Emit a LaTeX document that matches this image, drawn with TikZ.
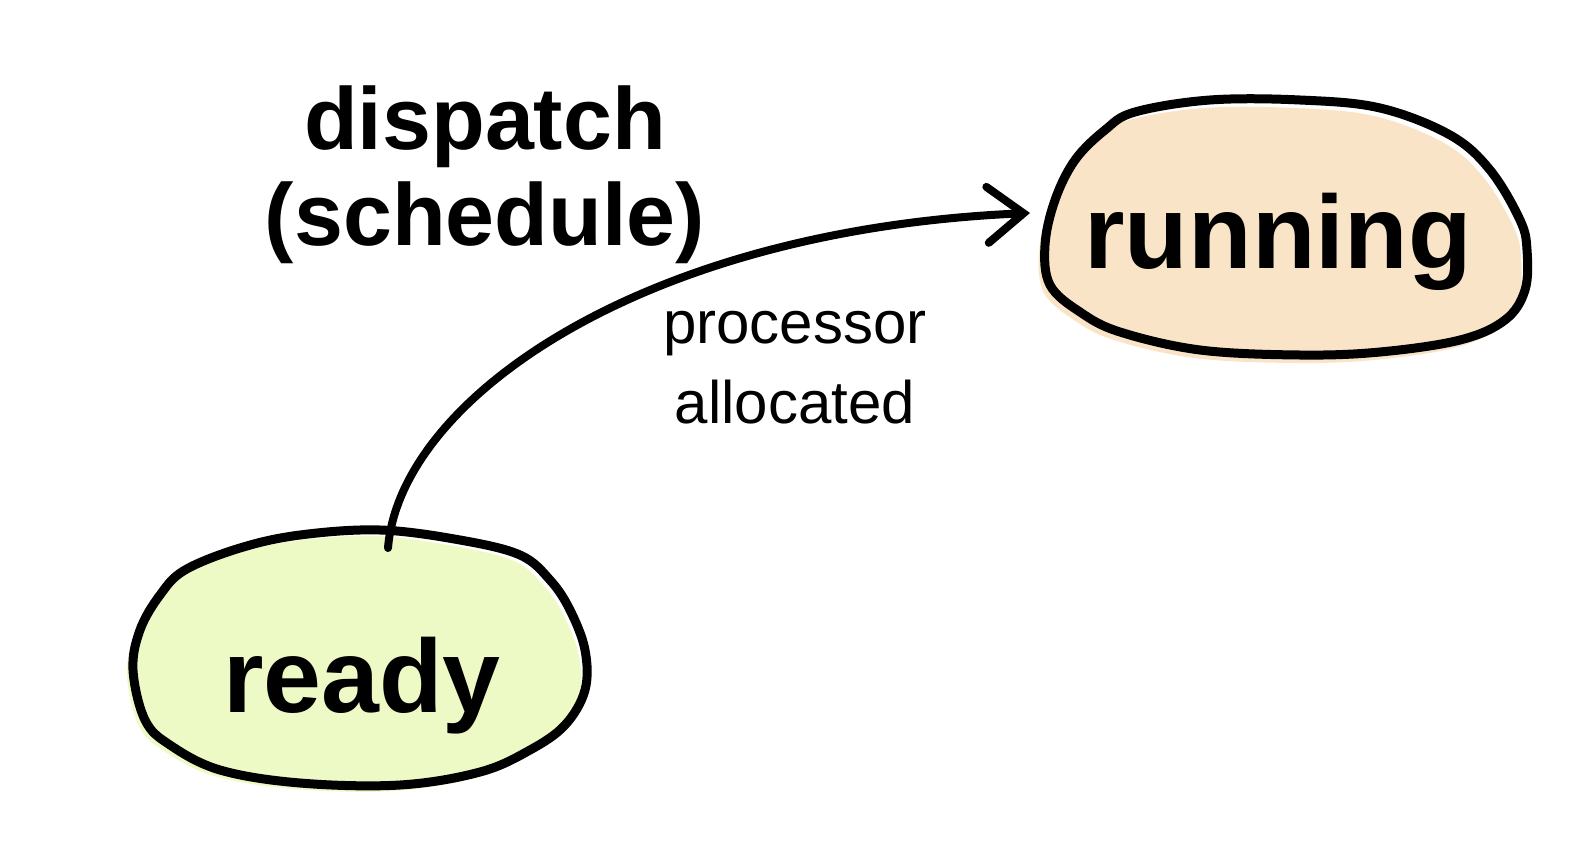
\documentclass[tikz,border=0pt]{standalone}
\usepackage{fontspec}
\setmainfont{Liberation Sans}
\usetikzlibrary{arrows.meta}
\definecolor{runfill}{HTML}{F9E4C8}
\definecolor{readyfill}{HTML}{EDFAC6}
\begin{document}
\begin{tikzpicture}[x=0.5pt,y=-0.5pt,
  blob/.style={line width=4.5pt, line join=round},
  statetext/.style={font=\fontsize{52}{56}\selectfont\bfseries, inner sep=0pt, anchor=base},
  bigtext/.style={font=\fontsize{44}{48}\selectfont\bfseries, align=center, inner sep=0pt},
  smalltext/.style={font=\fontsize{30}{40}\selectfont, align=center, inner sep=0pt},
  conn/.style={line width=4pt, line cap=round, -{Straight Barb[length=18pt,width=28pt,line cap=round]}}]
\useasboundingbox (0,0) rectangle (1572,840);
% running blob
\fill[runfill, shift={(-6,8)}] plot[smooth cycle, tension=0.6] coordinates {(1135,112) (1210,100) (1300,100) (1380,108) (1450,135) (1490,170) (1520,220) (1527,250) (1525,290) (1505,320) (1460,340) (1380,352) (1300,355) (1200,350) (1120,332) (1080,312) (1050,285) (1045,245) (1055,200) (1075,160) (1105,130)};
\draw[blob] plot[smooth cycle, tension=0.6] coordinates {(1135,112) (1210,100) (1300,100) (1380,108) (1450,135) (1490,170) (1520,220) (1527,250) (1525,290) (1505,320) (1460,340) (1380,352) (1300,355) (1200,350) (1120,332) (1080,312) (1050,285) (1045,245) (1055,200) (1075,160) (1105,130)};
% ready blob
\fill[readyfill, shift={(-6,6)}] plot[smooth cycle, tension=0.6] coordinates {(185,570) (240,548) (300,535) (380,530) (460,540) (520,555) (550,580) (570,610) (585,650) (585,690) (565,725) (530,750) (480,772) (400,785) (300,783) (220,770) (170,745) (145,720) (133,670) (140,630) (160,595)};
\draw[blob] plot[smooth cycle, tension=0.6] coordinates {(185,570) (240,548) (300,535) (380,530) (460,540) (520,555) (550,580) (570,610) (585,650) (585,690) (565,725) (530,750) (480,772) (400,785) (300,783) (220,770) (170,745) (145,720) (133,670) (140,630) (160,595)};
% texts
\node[statetext] (running) at (1278,268) {running};
\node[statetext] (ready) at (362,712) {ready};
\node[bigtext] (dispatch) at (485,175) {dispatch\\(schedule)};
\node[smalltext] (alloc) at (795,368) {processor\\allocated};
% connector
\coordinate (s) at (388,548);
\coordinate (e) at (1030,213);
\draw[conn] (s) .. controls (400,400) and (640,230) .. (e);
\end{tikzpicture}
\end{document}
